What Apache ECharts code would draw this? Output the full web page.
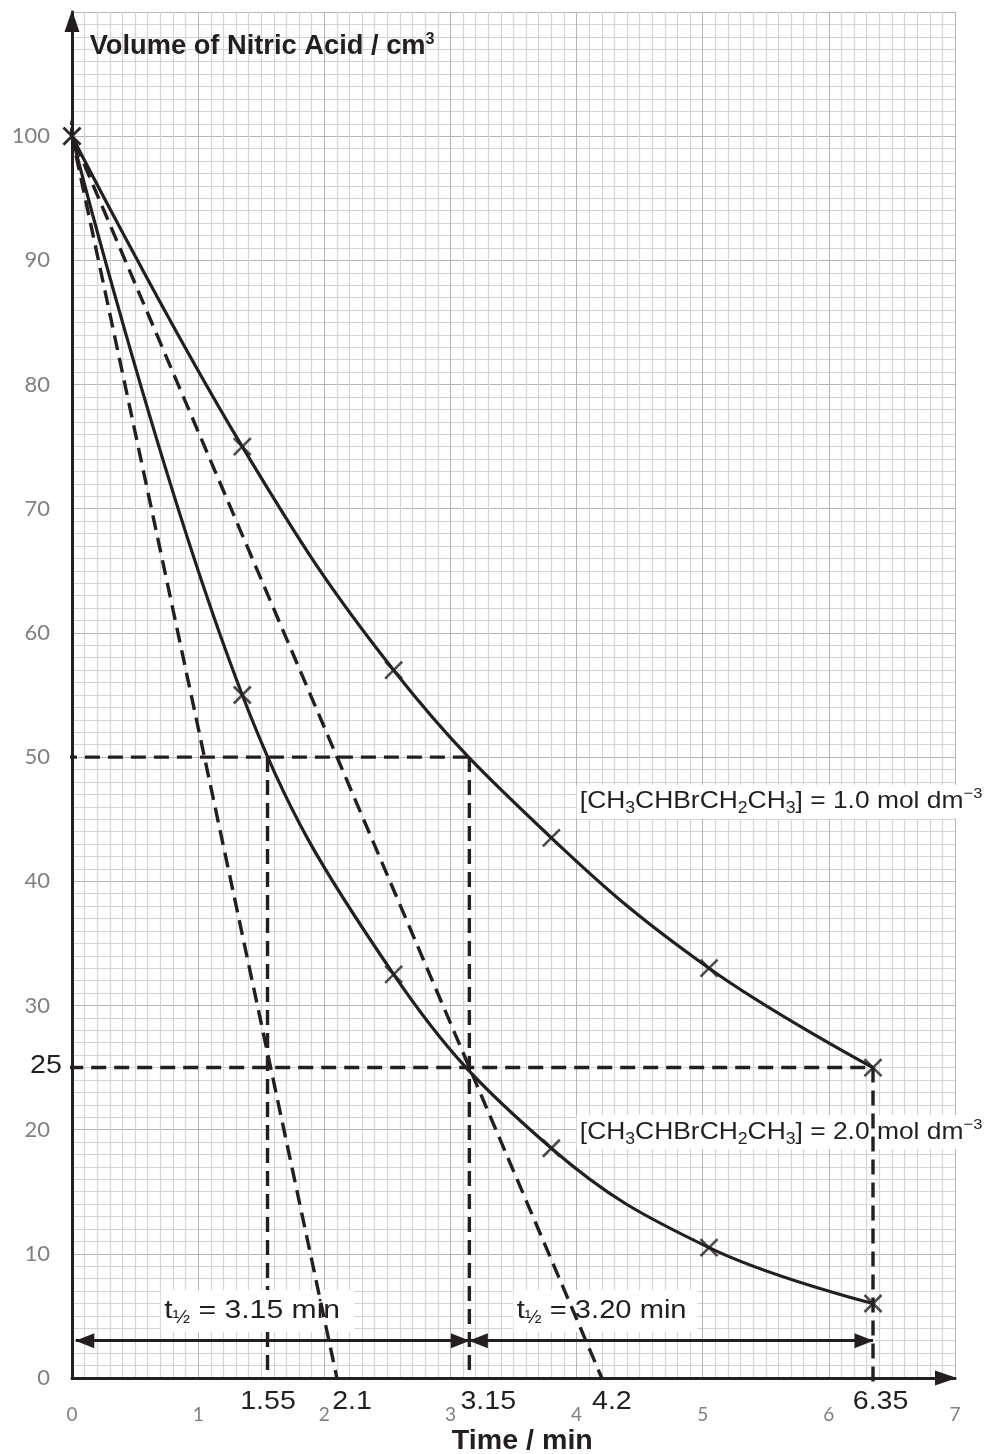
<!DOCTYPE html>
<html>
<head>
<meta charset="utf-8">
<script src="https://cdn.jsdelivr.net/npm/echarts@6/dist/echarts.min.js"></script>
<style>
html,body{margin:0;padding:0;background:#fff;}
#main{width:988px;height:1454px;}
</style>
</head>
<body>
<div id="main"></div>
<script>
// ---- data ----
const times = [0, 1.35, 2.55, 3.8, 5.05, 6.35];
const volume1M = [100, 75, 57, 43.5, 33, 25];
const volume2M = [100, 55, 32.5, 18.5, 10.5, 6];
const tangent1M = [[-0.12, 102.9], [4.2, 0]];
const tangent2M = [[-0.12, 105.7], [2.1, 0]];
const guideHalf = [[-0.08, 50], [3.15, 50]];
const guideQuarter = [[-0.03, 25], [6.35, 25]];
const drop155 = [[1.55, 50], [1.55, 0]];
const drop315 = [[3.15, 50], [3.15, 0]];
const drop635 = [[6.35, 25], [6.35, -0.8]];
const span1 = [[0.03, 3], [3.15, 3]];
const span2 = [[3.15, 3], [6.35, 3]];
const readTimes = ['1.55', '2.1', '3.15', '4.2', '6.35'];
const concentrations = ['1.0', '2.0'];
const halfLives = ['3.15', '3.20'];
const xTickMax = 7, yTickMax = 110;

// ---- chart ----
const INK = '#231f20';
const FONT = '"Liberation Sans", Arial, sans-serif';
const pts = (xs, ys) => xs.map((x, i) => [x, ys[i]]);
const dashed = (data, z) => ({
  type: 'line', data: data, symbol: 'none', clip: false, silent: true, z: z == null ? 3 : z,
  lineStyle: { color: INK, width: 3.4, type: [15, 8], cap: 'butt' }, animation: false
});
const curve = (data) => ({
  type: 'line', data: data, symbol: 'none', smooth: 0.4, clip: false, silent: true, z: 4,
  lineStyle: { color: INK, width: 3.2 }, animation: false
});
const crosses = (data) => ({
  type: 'scatter', data: data, symbol: 'path://M0,0L10,10M10,0L0,10', symbolSize: 17, z: 5,
  silent: true, itemStyle: { color: 'transparent', borderColor: INK, borderWidth: 2.6 }, animation: false
});

const chart = echarts.init(document.getElementById('main'), null, { renderer: 'canvas' });
chart.setOption({
  backgroundColor: '#fff',
  animation: false,
  grid: { left: 72, right: 33, top: 12, bottom: 76, containLabel: false },
  xAxis: {
    type: 'value', min: 0, max: xTickMax, interval: 1,
    axisLine: { show: true, onZero: false, lineStyle: { color: INK, width: 3 },
      symbol: ['none', 'triangle'], symbolSize: [15, 22], symbolOffset: [0, -9] },
    axisTick: { show: false },
    axisLabel: { color: '#808080', fontFamily: 'Lato', fontSize: 19, margin: 27 },
    splitLine: { show: true, lineStyle: { color: '#b5b5b5', width: 1 } },
    minorTick: { show: false, splitNumber: 10 },
    minorSplitLine: { show: true, lineStyle: { color: '#d4d4d4', width: 1.2 } }
  },
  yAxis: {
    type: 'value', min: 0, max: yTickMax, interval: 10,
    axisLine: { show: true, onZero: false, lineStyle: { color: INK, width: 3 },
      symbol: ['none', 'triangle'], symbolSize: [15, 22], symbolOffset: [0, -9] },
    axisTick: { show: false },
    axisLabel: { color: '#808080', fontFamily: 'Lato', fontSize: 22, margin: 22,
      formatter: v => (v >= yTickMax ? '' : String(v)) },
    splitLine: { show: true, lineStyle: { color: '#b5b5b5', width: 1 } },
    minorTick: { show: false, splitNumber: 10 },
    minorSplitLine: { show: true, lineStyle: { color: '#d4d4d4', width: 1.2 } }
  },
  series: [
    curve(pts(times, volume1M)),
    curve(pts(times, volume2M)),
    crosses(pts(times, volume1M)),
    crosses(pts(times, volume2M)),
    dashed(tangent1M),
    dashed(tangent2M),
    dashed(guideHalf),
    dashed(guideQuarter),
    dashed(drop155, 0.5),
    dashed(drop315),
    dashed(drop635),
    {
      type: 'line', data: [], silent: true, z: 3,
      markLine: {
        silent: true, animation: false,
        symbol: ['triangle', 'triangle'], symbolSize: [15, 19], symbolOffset: [[0, 9], [0, 9]],
        lineStyle: { color: INK, width: 3, type: 'solid' },
        label: { show: false },
        data: [
          [{ coord: span1[0] }, { coord: span1[1] }],
          [{ coord: span2[0] }, { coord: span2[1] }]
        ]
      }
    }
  ]
});

// ---- text annotations placed through the chart's own scales ----
const P = (x, y) => chart.convertToPixel({ gridIndex: 0 }, [x, y]);
const SX = 1.1;
function txt(pos, text, o) {
  const p = P(pos[0], pos[1]);
  const base = { fontSize: o.size || 26, fontFamily: FONT, fontWeight: o.bold ? 'bold' : 'normal', fill: INK };
  const rich = {
    s: Object.assign({}, base, { fontSize: 16, lineHeight: 18, verticalAlign: 'bottom' }),
    p: Object.assign({}, base, { fontSize: o.supSize || 15, lineHeight: 14, verticalAlign: 'top' }),
    h: Object.assign({}, base, { fontSize: 18, lineHeight: 21, verticalAlign: 'bottom' })
  };
  return {
    type: 'text', x: p[0], y: p[1], z: o.z || 10, scaleX: o.sx || SX, silent: true,
    style: Object.assign({}, base, {
      text: text, rich: rich, lineHeight: o.lh || 30,
      align: o.align || 'center', verticalAlign: 'middle',
      backgroundColor: o.bg || null, padding: o.pad || 0
    })
  };
}
const g = [];
g.push(txt([0.14, 107.2], 'Volume of Nitric Acid / cm{p|3}', { size: 27, bold: true, align: 'left', sx: 1.01, supSize: 16 }));
g.push(txt([3.57, -5.1], 'Time / min', { size: 27, bold: true, sx: 1.06 }));
g.push(txt([-0.08, 25.1], '25', { align: 'right' }));
const readPos = [[1.554, -1.9], [2.22, -1.9], [3.30, -1.9], [4.28, -1.9], [6.41, -1.9]];
readTimes.forEach((t, i) => g.push(txt(readPos[i], t, {})));
g.push(txt([1.47, 5.4], 't{h|½} = ' + halfLives[0] + ' min', { size: 26, bg: '#fff', pad: [5, 12, 5, 3], z: 1, lh: 32, sx: 1.16 }));
g.push(txt([4.23, 5.4], 't{h|½} = ' + halfLives[1] + ' min', { size: 26, bg: '#fff', pad: [5, 10, 5, 3], z: 1, lh: 32, sx: 1.12 }));
g.push(txt([4.0, 46.4], '[CH{s|3}CHBrCH{s|2}CH{s|3}] = ' + concentrations[0] + ' mol dm{p|−3}', { size: 24, align: 'left', bg: '#fff', pad: [2, 3, 2, 3], z: 1, sx: 1.1 }));
g.push(txt([4.0, 19.8], '[CH{s|3}CHBrCH{s|2}CH{s|3}] = ' + concentrations[1] + ' mol dm{p|−3}', { size: 24, align: 'left', bg: '#fff', pad: [2, 3, 2, 3], z: 1, sx: 1.1 }));
chart.setOption({ graphic: { elements: g } });
</script>
</body>
</html>
